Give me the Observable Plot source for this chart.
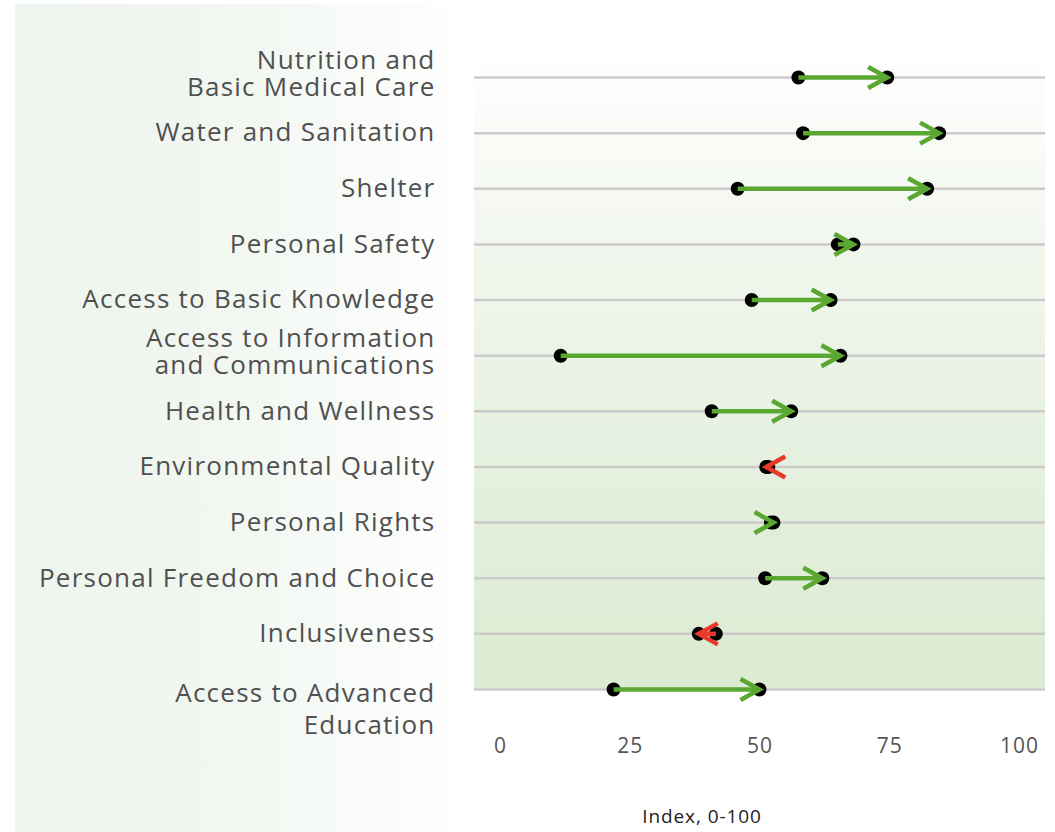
<!DOCTYPE html>
<html>
<head>
<meta charset="utf-8">
<script src="https://cdn.jsdelivr.net/npm/d3@7"></script>
<script src="https://cdn.jsdelivr.net/npm/@observablehq/plot@0.6"></script>
<style>
  body { margin: 0; background: #fff; }
  #wrap { position: relative; width: 1055px; height: 832px; overflow: hidden; background: #fff; }
  #leftbg { position: absolute; left: 15px; top: 4px; width: 460px; height: 828px;
    background: linear-gradient(to right, #eef4ee 0%, #f1f6f0 40%, #f8fbf8 75%, #ffffff 100%); }
  #plotbg { position: absolute; left: 474px; top: 45px; width: 571px; height: 644px;
    background: linear-gradient(to bottom, #ffffff 0%, #f0f6ec 35%, #e5f0df 65%, #dcebd1 100%); }
  #chart { position: absolute; left: 0; top: 0; }
  #chart text { letter-spacing: 0.048em; }
</style>
</head>
<body>
<div id="wrap"><div id="leftbg"></div><div id="plotbg"></div><div id="chart"></div></div>
<script>
const categories = [
  "Nutrition and Basic Medical Care",
  "Water and Sanitation",
  "Shelter",
  "Personal Safety",
  "Access to Basic Knowledge",
  "Access to Information and Communications",
  "Health and Wellness",
  "Environmental Quality",
  "Personal Rights",
  "Personal Freedom and Choice",
  "Inclusiveness",
  "Access to Advanced Education"
];
const labels = [
  "Nutrition and\nBasic Medical Care",
  "Water and Sanitation",
  "Shelter",
  "Personal Safety",
  "Access to Basic Knowledge",
  "Access to Information\nand Communications",
  "Health and Wellness",
  "Environmental Quality",
  "Personal Rights",
  "Personal Freedom and Choice",
  "Inclusiveness",
  "Access to Advanced\nEducation"
];
const startValues = [57.4, 58.3, 45.7, 65.0, 48.4, 11.6, 40.7, 51.6, 52.1, 51.0, 41.5, 21.8];
const endValues   = [74.5, 84.5, 82.2, 68.0, 63.6, 65.5, 56.0, 51.2, 52.6, 62.0, 38.2, 49.9];
const xTicks = [0, 25, 50, 75, 100];
const axisTitle = "Index, 0-100";

const GREEN = "#5aa832";
const RED = "#e8392b";

const rows = categories.map((c, i) => ({cat: c, label: labels[i], start: startValues[i], end: endValues[i], i}));
const twoLine = d => d.label.includes("\n");

const chevronRight = {draw(ctx) { ctx.moveTo(-19, -10.5); ctx.lineTo(0, 0); ctx.lineTo(-19, 10.5); }};
const chevronLeft  = {draw(ctx) { ctx.moveTo(19, -10.5); ctx.lineTo(0, 0); ctx.lineTo(19, 10.5); }};

const up = d => d.end >= d.start;
const down = d => d.end < d.start;

const labelStyle = {y: "cat", text: "label", frameAnchor: "left", dx: -39, textAnchor: "end", fontSize: 26, fill: "#505050"};

const chart = Plot.plot({
  width: 1055,
  height: 832,
  marginLeft: 474,
  marginRight: 10,
  marginTop: 77,
  marginBottom: 143,
  style: {background: "transparent", fontFamily: "'Open Sans', sans-serif", fontSize: "21px", color: "#555"},
  x: {domain: [-5, 105], ticks: xTicks, tickSize: 0, tickPadding: 49, tickFormat: d => String(d), label: null},
  y: {type: "point", domain: categories, padding: 0, round: false, axis: null},
  marks: [
    Plot.ruleY(categories, {stroke: "#cbcbcb", strokeWidth: 2.5}),
    Plot.dot(rows, {x: "start", y: "cat", r: 7, fill: "black"}),
    Plot.dot(rows, {x: "end", y: "cat", r: 7, fill: "black"}),
    Plot.link(rows, {filter: up, x1: "start", x2: "end", y1: "cat", y2: "cat", stroke: GREEN, strokeWidth: 4.5}),
    Plot.link(rows, {filter: down, x1: "start", x2: "end", y1: "cat", y2: "cat", stroke: RED, strokeWidth: 4.5}),
    Plot.dot(rows, {filter: up, x: "end", y: "cat", symbol: chevronRight, fill: "none", stroke: GREEN, strokeWidth: 4.5}),
    Plot.dot(rows, {filter: down, x: "end", y: "cat", symbol: chevronLeft, fill: "none", stroke: RED, strokeWidth: 4.5}),
    Plot.text(rows, {...labelStyle, filter: d => !twoLine(d)}),
    Plot.text(rows, {...labelStyle, filter: d => twoLine(d) && d.i < 11, dy: -4, lineHeight: 1.06}),
    Plot.text(rows, {...labelStyle, filter: d => d.i === 11, dy: 18, lineHeight: 1.22}),
    Plot.text([axisTitle], {frameAnchor: "bottom", dx: -58, dy: 133, fontSize: 19, fill: "#222"})
  ]
});
document.getElementById("chart").appendChild(chart);
</script>
</body>
</html>
